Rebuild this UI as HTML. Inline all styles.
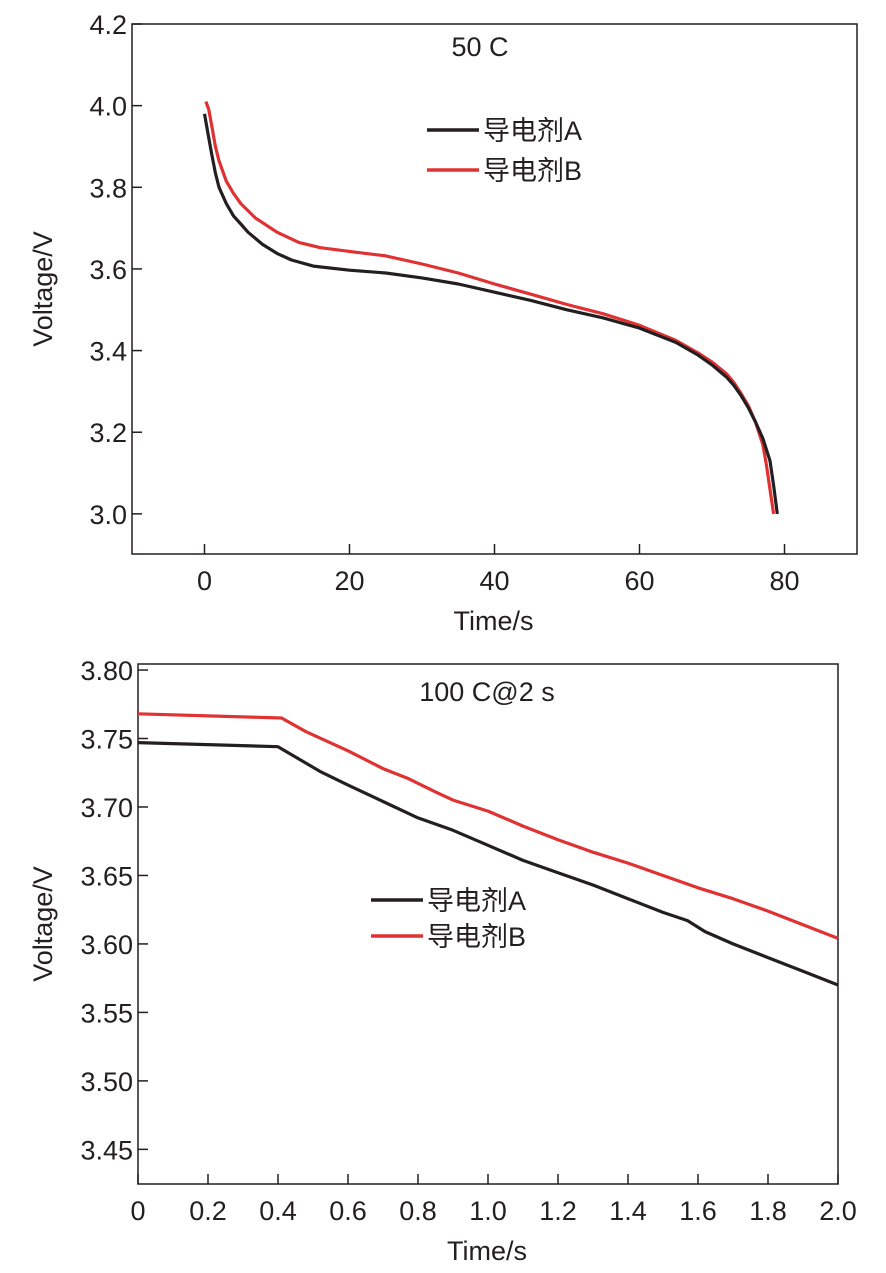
<!DOCTYPE html>
<html><head><meta charset="utf-8"><style>
body{margin:0;background:#fff;}
svg{display:block;font-family:"Liberation Sans","Noto Sans CJK SC",sans-serif;fill:#231f20;}
</style></head><body>
<svg id="s" width="886" height="1273"></svg>
<script>
const topTicksX=[0,20,40,60,80];
const topTicksY=[3.0,3.2,3.4,3.6,3.8,4.0,4.2];
const topA_t=[0,0.5,1,1.5,2,3,4,5,6,8,10,12,15,20,25,30,35,40,45,50,55,60,65,68,70,72,73,74,75,76,77,78,78.5,79];
const topA_v=[3.98,3.93,3.88,3.835,3.80,3.76,3.73,3.71,3.69,3.66,3.638,3.622,3.607,3.597,3.59,3.578,3.563,3.543,3.523,3.50,3.48,3.455,3.42,3.39,3.365,3.335,3.315,3.29,3.26,3.225,3.185,3.13,3.07,3.0];
const topB_t=[0.2,0.6,1,1.5,2,3,4,5,7,10,13,16,20,25,30,35,40,45,50,55,60,65,68,70,72,73,74,75,76,77,77.5,78,78.5];
const topB_v=[4.01,3.99,3.95,3.9,3.865,3.815,3.785,3.76,3.725,3.69,3.665,3.652,3.643,3.632,3.612,3.59,3.563,3.538,3.513,3.49,3.462,3.425,3.395,3.372,3.343,3.322,3.295,3.265,3.225,3.17,3.12,3.06,3.0];
const botTicksX=[0,0.2,0.4,0.6,0.8,1.0,1.2,1.4,1.6,1.8,2.0];
const botTicksY=[3.45,3.50,3.55,3.60,3.65,3.70,3.75,3.80];
const botA_t=[0,0.4,0.52,0.6,0.7,0.8,0.9,1.0,1.1,1.2,1.3,1.4,1.5,1.57,1.62,1.7,1.8,1.9,2.0];
const botA_v=[3.747,3.744,3.726,3.716,3.704,3.692,3.683,3.672,3.661,3.652,3.643,3.633,3.623,3.617,3.609,3.600,3.590,3.580,3.570];
const botB_t=[0,0.41,0.48,0.6,0.7,0.77,0.85,0.9,1.0,1.1,1.2,1.3,1.4,1.5,1.6,1.7,1.8,1.9,2.0];
const botB_v=[3.768,3.765,3.755,3.741,3.728,3.721,3.711,3.705,3.697,3.686,3.676,3.667,3.659,3.650,3.641,3.633,3.624,3.614,3.604];

const NS="http://www.w3.org/2000/svg";
const svg=document.getElementById('s');
function mk(tag,attrs,parent){const e=document.createElementNS(NS,tag);for(const k in attrs)e.setAttribute(k,attrs[k]);(parent||svg).appendChild(e);return e;}

function chart(o){
  const g=mk('g',{});
  
  
  const sx=v=>o.L+(v-o.x0)/(o.x1-o.x0)*(o.R-o.L);
  const sy=v=>o.B-(v-o.y0)/(o.y1-o.y0)*(o.B-o.T);
  const box=mk('rect',{x:o.L,y:o.T,width:o.R-o.L,height:o.B-o.T,fill:'none',stroke:'#231f20','stroke-width':1.5},g);
  
  
  o.tx.forEach((v,i)=>{
    const x=sx(v);
    mk('line',{x1:x,x2:x,y1:o.B,y2:o.B-10,stroke:'#231f20','stroke-width':1.5},g);
    const t=mk('text',{x:x,y:o.B+36,'text-anchor':'middle','font-size':27},g);
    t.textContent=o.txl[i];
    
    
  });
  o.ty.forEach((v,i)=>{
    const y=sy(v);
    mk('line',{x1:o.L,x2:o.L+10,y1:y,y2:y,stroke:'#231f20','stroke-width':1.5},g);
    const t=mk('text',{x:o.L-5,y:y+10,'text-anchor':'end','font-size':27},g);
    t.textContent=o.tyl[i];
    
    
  });
  const xt=mk('text',{x:(o.L+o.R)/2-1,y:o.B+76,'text-anchor':'middle','font-size':27},g);
  xt.textContent='Time/s';
  
  
  const yt=mk('text',{x:0,y:0,'text-anchor':'middle','font-size':27,transform:`translate(${o.yx},${(o.T+o.B)/2}) rotate(-90)`},g);
  yt.textContent='Voltage/V';
  
  
  const tt=mk('text',{x:o.titleX,y:o.titleY,'text-anchor':'middle','font-size':27},g);
  tt.textContent=o.title;
  
  
  o.series.forEach(s=>{
    const d=s.t.map((t,i)=>(i?'L':'M')+sx(t).toFixed(1)+','+sy(s.v[i]).toFixed(1)).join('');
    const p=mk('path',{d:d,fill:'none',stroke:s.c,'stroke-width':3.2,'stroke-linejoin':'round'},g);
    
    
  });
  o.series.slice().reverse().forEach((s,j)=>{
    const y=o.legY+j*o.legDy;
    const lg=mk('g',{},g);
    
    
    mk('line',{x1:o.legX,x2:o.legX+52,y1:y,y2:y,stroke:s.c,'stroke-width':3.5},lg);
    const t=mk('text',{x:o.legX+56,y:y+10,'font-size':27},lg);
    t.textContent=s.label;
  });
}
chart({name:'chart-50c',L:132,R:857,T:24,B:554,x0:-10,x1:90,y0:2.9017,y1:4.2,
  tx:topTicksX,txl:topTicksX.map(String),ty:topTicksY,tyl:topTicksY.map(v=>v.toFixed(1)),
  yx:52,title:'50 C',titleX:480,titleY:56,legX:427,legY:130,legDy:40,
  series:[{n:'series-b-line',t:topB_t,v:topB_v,c:'#e03232',label:'导电剂B'},{n:'series-a-line',t:topA_t,v:topA_v,c:'#231f20',label:'导电剂A'}]});
chart({name:'chart-100c',L:138,R:838,T:664,B:1184,x0:0,x1:2,y0:3.4247,y1:3.8044,
  tx:botTicksX,txl:botTicksX.map(v=>v===0?'0':v.toFixed(1)),ty:botTicksY,tyl:botTicksY.map(v=>v.toFixed(2)),
  yx:52,title:'100 C@2 s',titleX:487,titleY:701,legX:371,legY:900,legDy:36,
  series:[{n:'series-b-line',t:botB_t,v:botB_v,c:'#e03232',label:'导电剂B'},{n:'series-a-line',t:botA_t,v:botA_v,c:'#231f20',label:'导电剂A'}]});
</script>
</body></html>
